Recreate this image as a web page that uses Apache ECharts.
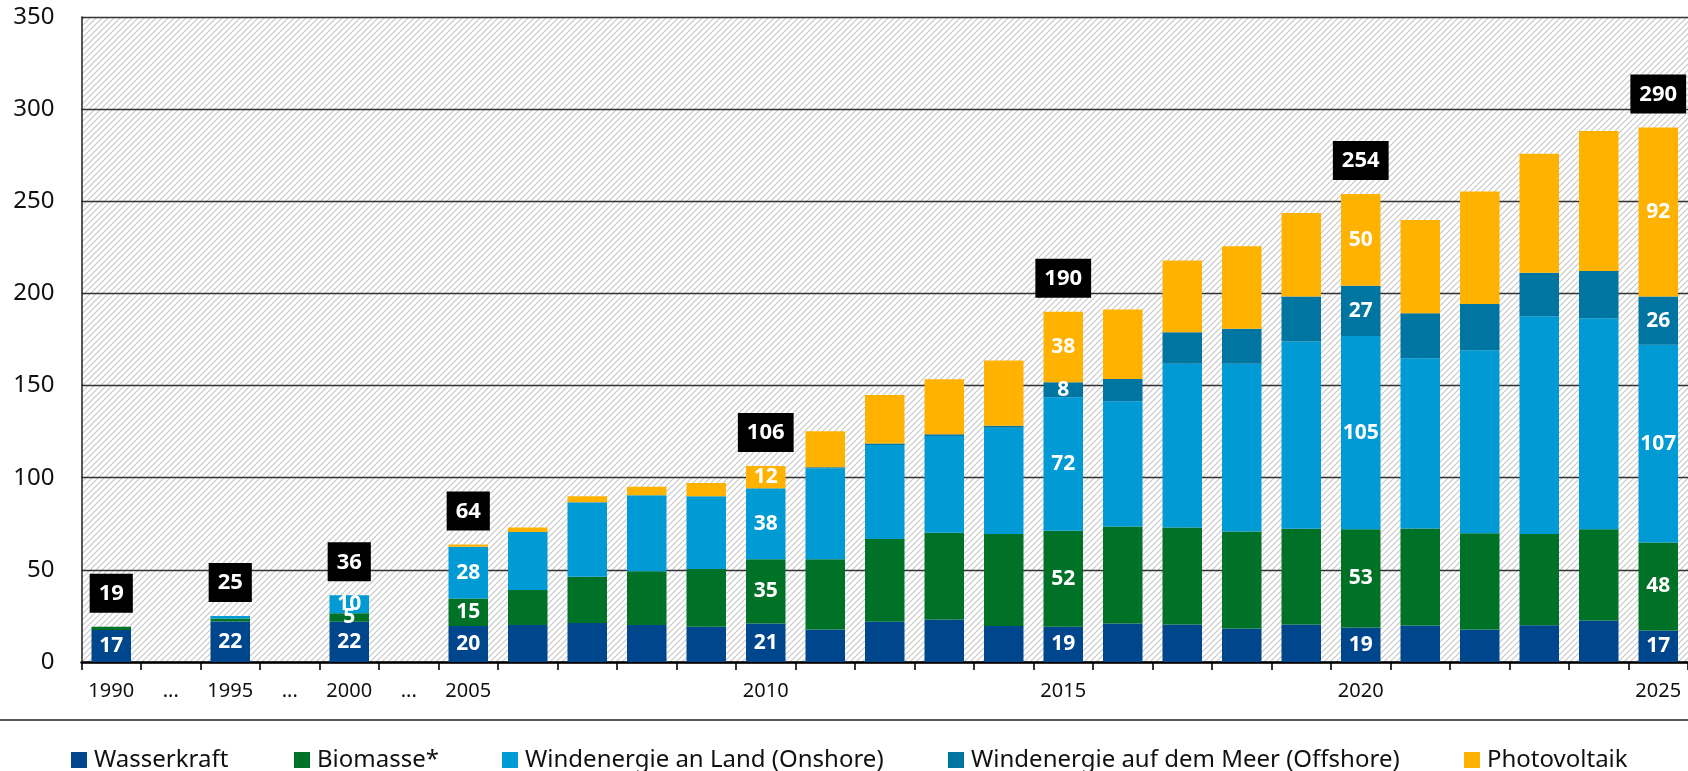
<!DOCTYPE html>
<html>
<head>
<meta charset="utf-8">
<script src="https://cdn.jsdelivr.net/npm/echarts@6/dist/echarts.min.js"></script>
<style>
html,body{margin:0;padding:0;background:#fff;}
#chart{width:1688px;height:771px;}
</style>
</head>
<body>
<div id="chart"></div>
<script>
// ---- data ----
const categories = ['1990','...','1995','...','2000','...','2005','2006','2007','2008','2009','2010','2011','2012','2013','2014','2015','2016','2017','2018','2019','2020','2021','2022','2023','2024','2025'];
const shownAxisLabels = ['1990','...','1995','2000','2005','2010','2015','2020','2025'];
const labelYears = ['1990','1995','2000','2005','2010','2015','2020','2025'];

const wasserkraft = [17.4,null,22.0,null,21.8,null,19.6,20.1,21.2,20.1,19.1,20.9,17.6,21.8,23.0,19.6,19.1,20.9,20.3,18.2,20.3,18.7,19.8,17.6,20.0,22.5,17.1];
const biomasse    = [1.7,null,1.6,null,4.7,null,14.8,19.0,25.0,29.2,31.4,34.9,38.2,44.9,47.1,49.9,52.1,52.6,52.7,52.6,52.0,53.3,52.6,52.3,49.4,49.6,47.8];
const onshore     = [0,null,1.4,null,9.7,null,28.1,31.5,40.5,41.2,39.5,38.3,49.4,51.1,52.6,57.6,72.4,68.0,88.8,91.0,101.6,104.9,92.4,99.3,118.2,114.4,107.2];
const offshore    = [0,null,0,null,0,null,0,0,0,0,0,0.2,0.5,0.7,0.9,1.1,8.2,12.1,17.1,19.0,24.4,27.3,24.5,25.1,23.6,25.7,26.2];
const photovoltaik= [0,null,0,null,0,null,1.2,2.4,3.3,4.6,7.1,12.0,19.5,26.4,29.8,35.4,38.2,37.7,39.0,44.8,45.4,49.8,50.5,61.0,64.6,76.0,91.7];

const seriesNames = ['Wasserkraft','Biomasse*','Windenergie an Land (Onshore)','Windenergie auf dem Meer (Offshore)','Photovoltaik'];
const seriesData = [wasserkraft, biomasse, onshore, offshore, photovoltaik];
const colors = ['#00468C','#007227','#009BD4','#0075A2','#FFB300'];

const yTicks = {min:0, max:350, interval:50};

// ---- hatch pattern ----
const pc = document.createElement('canvas');
pc.width = 6; pc.height = 6;
const g = pc.getContext('2d');
g.fillStyle = '#ffffff';
g.fillRect(0,0,6,6);
g.strokeStyle = '#c8c8c8';
g.lineWidth = 1.2;
g.beginPath();
g.moveTo(-1,7); g.lineTo(7,-1);
g.moveTo(-4,4); g.lineTo(4,-4);
g.moveTo(2,10); g.lineTo(10,2);
g.stroke();

const FONT = '"Noto Sans", "Open Sans", sans-serif';

const totals = categories.map((c,i) => {
  if (labelYears.indexOf(c) < 0) return null;
  let s = 0;
  seriesData.forEach(arr => { s += (arr[i] || 0); });
  return s;
});

const series = seriesNames.map((name, k) => ({
  name: name,
  type: 'bar',
  stack: 'total',
  barWidth: 39.5,
  data: seriesData[k],
  itemStyle: {color: colors[k]},
  label: {
    show: true,
    position: 'inside',
    color: '#fff',
    fontFamily: FONT,
    fontWeight: 'bold',
    fontSize: 21,
    formatter: p => (labelYears.indexOf(p.name) >= 0 && p.value >= 4) ? String(Math.round(p.value)) : ''
  },
  emphasis: {disabled: true}
}));

series.push({
  name: 'Summe',
  type: 'scatter',
  data: totals,
  symbolSize: 0,
  z: 10,
  itemStyle: {opacity: 1},
  label: {
    show: true,
    position: 'top',
    distance: 14,
    backgroundColor: '#000',
    color: '#fff',
    opacity: 1,
    fontFamily: FONT,
    fontWeight: 'bold',
    fontSize: 22,
    lineHeight: 22,
    padding: [9, 9, 8, 9],
    formatter: p => p.value == null ? '' : String(Math.round(p.value))
  },
  emphasis: {disabled: true}
});

const legendLefts = [71, 294, 502, 948, 1464];
const legends = seriesNames.map((n, k) => ({
  data: [n],
  left: legendLefts[k],
  top: 748,
  padding: 0,
  icon: 'rect',
  itemWidth: 16,
  itemHeight: 16,
  selectedMode: false,
  textStyle: {fontFamily: FONT, fontSize: 24, lineHeight: 24, color: '#111', padding: [0,0,0,2]}
}));

const chart = echarts.init(document.getElementById('chart'), null, {renderer: 'canvas'});
chart.setOption({
  animation: false,
  color: colors,
  legend: legends,
  grid: {
    left: 81.5, right: 0, top: 17, bottom: 109,
    show: true,
    backgroundColor: {image: pc, repeat: 'repeat'},
    borderWidth: 0
  },
  xAxis: {
    type: 'category',
    data: categories,
    axisLine: {lineStyle: {color: '#000', width: 2.5}},
    axisTick: {show: true, interval: 0, length: 8, lineStyle: {color: '#000', width: 1.6}},
    axisLabel: {
      interval: 0,
      margin: 19,
      fontFamily: FONT,
      fontSize: 20,
      color: '#111',
      formatter: v => shownAxisLabels.indexOf(v) >= 0 ? v : ''
    }
  },
  yAxis: {
    type: 'value',
    min: yTicks.min, max: yTicks.max, interval: yTicks.interval,
    axisLine: {show: true, lineStyle: {color: '#222', width: 1.5}},
    axisTick: {show: false},
    splitLine: {lineStyle: {color: '#333', width: 1.3}},
    axisLabel: {fontFamily: FONT, fontSize: 24, color: '#111', margin: 27}
  },
  graphic: [{
    type: 'line',
    shape: {x1: 0, y1: 720, x2: 1688, y2: 720},
    style: {stroke: '#222', lineWidth: 1.6},
    silent: true
  }],
  series: series
});
</script>
</body>
</html>
